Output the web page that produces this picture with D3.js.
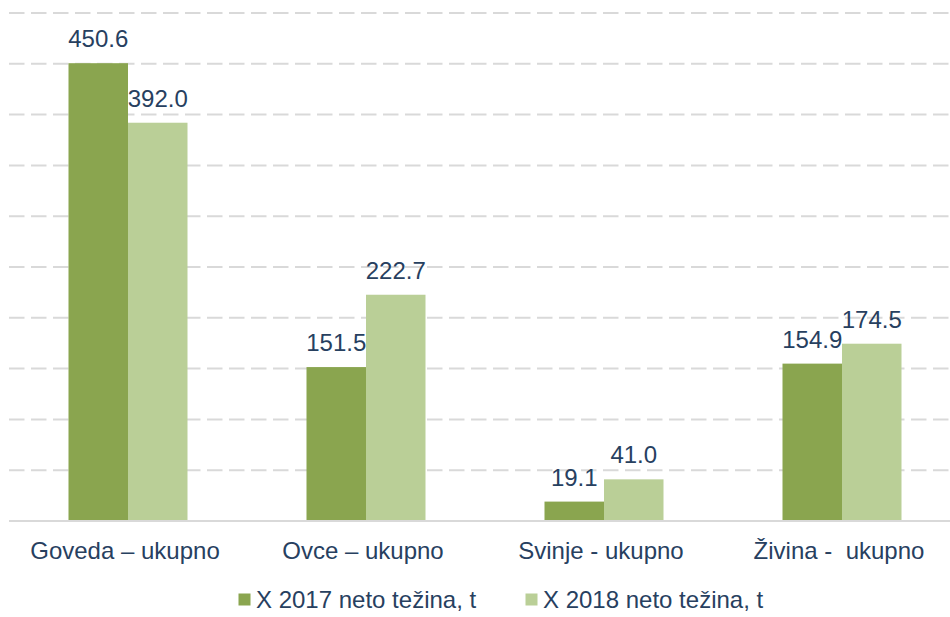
<!DOCTYPE html>
<html>
<head>
<meta charset="utf-8">
<script src="https://cdn.jsdelivr.net/npm/d3@7"></script>
<style>
  body { margin: 0; background: #fff; }
  svg { display: block; font-family: "Liberation Sans", Arial, sans-serif; }
</style>
</head>
<body>
<svg id="chart" width="950" height="617"></svg>
<script>

var categories = ["Goveda – ukupno", "Ovce – ukupno", "Svinje - ukupno", "Živina -  ukupno"];
var seriesNames = ["X 2017 neto težina, t", "X 2018 neto težina, t"];
var values2017 = [450.6, 151.5, 19.1, 154.9];
var values2018 = [392.0, 222.7, 41.0, 174.5];
var gridTicks = [50, 100, 150, 200, 250, 300, 350, 400, 450, 500];

var svg = d3.select("#chart");
var textColor = "#27405f";
var colors = ["#8aa54f", "#bacf97"];

// plot area runs slightly past the right edge, like the cropped original
var x = d3.scaleBand()
    .domain(categories)
    .range([9, 961])
    .paddingInner(0.5)
    .paddingOuter(0.25);

var x1 = d3.scaleBand()
    .domain([0, 1])
    .range([0, x.bandwidth()]);

var y = d3.scaleLinear()
    .domain([0, 500])
    .range([521, 13]);

// dashed gridlines
svg.append("g")
    .selectAll("line")
    .data(gridTicks)
    .enter()
    .append("line")
    .attr("x1", 9)
    .attr("x2", 961)
    .attr("y1", function(d) { return y(d); })
    .attr("y2", function(d) { return y(d); })
    .attr("stroke", "#d9d9d9")
    .attr("stroke-width", 2)
    .attr("stroke-dasharray", "15.5,6.5");

var rows = [];
categories.forEach(function(c, i) {
    rows.push({cat: c, s: 0, v: values2017[i]});
    rows.push({cat: c, s: 1, v: values2018[i]});
});

svg.append("g")
    .selectAll("rect")
    .data(rows)
    .enter()
    .append("rect")
    .attr("x", function(d) { return x(d.cat) + x1(d.s); })
    .attr("y", function(d) { return y(d.v); })
    .attr("width", x1.bandwidth())
    .attr("height", function(d) { return y(0) - y(d.v); })
    .attr("fill", function(d) { return colors[d.s]; });

// baseline
svg.append("line")
    .attr("x1", 9)
    .attr("x2", 961)
    .attr("y1", y(0))
    .attr("y2", y(0))
    .attr("stroke", "#d9d9d9")
    .attr("stroke-width", 2);

// value labels
svg.append("g")
    .selectAll("text")
    .data(rows)
    .enter()
    .append("text")
    .attr("x", function(d) { return x(d.cat) + x1(d.s) + x1.bandwidth() / 2; })
    .attr("y", function(d) { return y(d.v) - 16; })
    .attr("text-anchor", "middle")
    .attr("font-size", "24px")
    .attr("fill", textColor)
    .text(function(d) { return d.v.toFixed(1); });

// category labels
svg.append("g")
    .selectAll("text")
    .data(categories)
    .enter()
    .append("text")
    .attr("x", function(d) { return x(d) + x.bandwidth() / 2 - 3; })
    .attr("y", 559)
    .attr("text-anchor", "middle")
    .attr("font-size", "24px")
    .attr("fill", textColor)
    .style("white-space", "pre")
    .text(function(d) { return d; });

// legend
var legendX = [238.5, 525.5];
var legend = svg.append("g")
    .selectAll("g")
    .data(seriesNames)
    .enter()
    .append("g")
    .attr("transform", function(d, i) { return "translate(" + legendX[i] + ",593.5)"; });

legend.append("rect")
    .attr("width", 12)
    .attr("height", 12)
    .attr("fill", function(d, i) { return colors[i]; });

legend.append("text")
    .attr("x", 17.5)
    .attr("y", 14)
    .attr("font-size", "24px")
    .attr("fill", textColor)
    .text(function(d) { return d; });

</script>
</body>
</html>
